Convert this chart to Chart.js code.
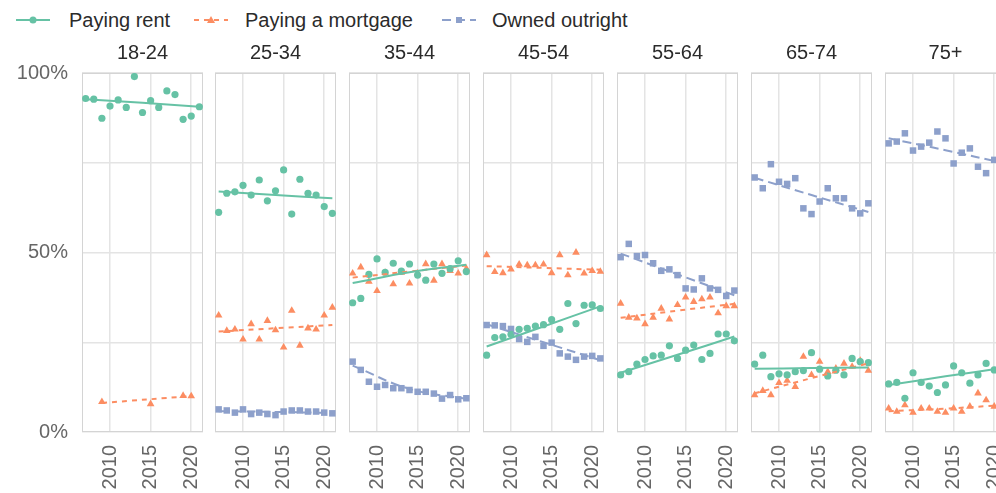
<!DOCTYPE html>
<html>
<head>
<meta charset="utf-8">
<script src="https://cdn.jsdelivr.net/npm/chart.js@4.4.1/dist/chart.umd.min.js"></script>
<style>
  body { margin: 0; background: #fff; }
  #wrap { position: relative; width: 996px; height: 493px; overflow: hidden; background: #fff; font-family: "Liberation Sans", Arial, sans-serif; }
  #wrap canvas { position: absolute; }
  .strip { position: absolute; top: 40px; width: 121px; text-align: center; font-size: 20px; line-height: 24px; color: #2b2b2b; }
  .leg { position: absolute; top: 8px; font-size: 20px; line-height: 24px; color: #2b2b2b; white-space: nowrap; }
  .legsym { position: absolute; top: 13px; }
</style>
</head>
<body>
<div id="wrap">
  <svg class="legsym" style="left:16px" width="34" height="14"><line x1="0" y1="7" x2="34" y2="7" stroke="#66c2a5" stroke-width="2"/><circle cx="17" cy="7" r="3.5" fill="#66c2a5"/></svg>
  <div class="leg" style="left:69px">Paying rent</div>
  <svg class="legsym" style="left:194px" width="34" height="14"><line x1="0" y1="7" x2="34" y2="7" stroke="#fc8d62" stroke-width="2" stroke-dasharray="5 5"/><polygon points="17,3 21,10 13,10" fill="#fc8d62"/></svg>
  <div class="leg" style="left:245px">Paying a mortgage</div>
  <svg class="legsym" style="left:442px" width="34" height="14"><line x1="0" y1="7" x2="34" y2="7" stroke="#8da0cb" stroke-width="2" stroke-dasharray="9 5"/><rect x="14" y="4" width="6" height="6" fill="#8da0cb"/></svg>
  <div class="leg" style="left:492px">Owned outright</div>
</div>
<script>
const ageGroups = ['18-24', '25-34', '35-44', '45-54', '55-64', '65-74', '75+'];
const years = [2007, 2008, 2009, 2010, 2011, 2012, 2013, 2014, 2015, 2016, 2017, 2018, 2019, 2020, 2021];
const tickYears = [2010, 2015, 2020];
const yTicks = [0, 0.25, 0.5, 0.75, 1];
const trendYears = [2007, 2014, 2021];
const youngMortgageTrendYears = [2009, 2020];

// share of households, one row per age group, 2007..2021
const rentValues = [
  [0.929, 0.927, 0.874, 0.908, 0.925, 0.904, 0.990, 0.890, 0.923, 0.904, 0.950, 0.940, 0.871, 0.880, 0.906],
  [0.612, 0.665, 0.669, 0.687, 0.660, 0.702, 0.644, 0.672, 0.730, 0.607, 0.704, 0.665, 0.660, 0.628, 0.609],
  [0.360, 0.372, 0.439, 0.482, 0.445, 0.470, 0.448, 0.468, 0.437, 0.423, 0.468, 0.442, 0.455, 0.477, 0.447],
  [0.214, 0.263, 0.265, 0.272, 0.286, 0.289, 0.295, 0.299, 0.313, 0.286, 0.358, 0.302, 0.353, 0.354, 0.344],
  [0.159, 0.168, 0.189, 0.202, 0.212, 0.214, 0.240, 0.205, 0.228, 0.242, 0.202, 0.219, 0.273, 0.273, 0.254],
  [0.189, 0.214, 0.154, 0.162, 0.159, 0.168, 0.171, 0.221, 0.175, 0.156, 0.172, 0.159, 0.205, 0.196, 0.193],
  [0.134, 0.138, 0.094, 0.165, 0.138, 0.128, 0.110, 0.131, 0.184, 0.165, 0.136, 0.159, 0.191, 0.173, 0.178]
];
const mortgageValues = [
  [null, null, 0.084, null, null, null, null, null, 0.078, null, null, null, 0.101, 0.100, null],
  [0.325, 0.282, 0.286, 0.258, 0.301, 0.258, 0.310, 0.284, 0.236, 0.338, 0.241, 0.289, 0.286, 0.325, 0.347],
  [0.442, 0.459, 0.419, 0.393, 0.444, 0.412, 0.444, 0.414, 0.442, 0.468, 0.422, 0.468, 0.449, 0.442, 0.455],
  [0.493, 0.446, 0.443, 0.453, 0.467, 0.465, 0.465, 0.467, 0.443, 0.493, 0.437, 0.500, 0.442, 0.449, 0.447],
  [0.358, 0.319, 0.317, 0.301, 0.319, 0.344, 0.314, 0.354, 0.375, 0.363, 0.370, 0.375, 0.331, 0.351, 0.351],
  [0.103, 0.115, 0.103, 0.137, 0.143, 0.126, 0.210, 0.159, 0.196, 0.168, 0.177, 0.191, 0.182, 0.199, 0.171],
  [0.066, 0.057, 0.075, 0.054, 0.066, 0.066, 0.057, 0.054, 0.066, 0.057, 0.071, 0.108, 0.089, 0.071, 0.068]
];
const ownedValues = [
  null,
  [0.063, 0.060, 0.054, 0.063, 0.050, 0.054, 0.050, 0.047, 0.057, 0.060, 0.060, 0.057, 0.057, 0.054, 0.052],
  [0.196, 0.173, 0.140, 0.126, 0.131, 0.122, 0.122, 0.117, 0.112, 0.112, 0.107, 0.093, 0.103, 0.091, 0.094],
  [0.298, 0.297, 0.295, 0.287, 0.259, 0.251, 0.265, 0.240, 0.249, 0.219, 0.210, 0.201, 0.210, 0.212, 0.205],
  [0.487, 0.524, 0.490, 0.493, 0.470, 0.449, 0.453, 0.437, 0.400, 0.397, 0.428, 0.400, 0.396, 0.379, 0.394],
  [0.709, 0.679, 0.746, 0.697, 0.691, 0.707, 0.623, 0.607, 0.642, 0.679, 0.651, 0.651, 0.623, 0.609, 0.637],
  [0.804, 0.809, 0.832, 0.784, 0.795, 0.806, 0.837, 0.818, 0.748, 0.778, 0.790, 0.739, 0.721, 0.758, 0.752]
];

// fitted trend, read at trendYears (18-24 mortgage only spans 2009-2020)
const rentTrend = [
  [0.927, 0.917, 0.906], [0.670, 0.660, 0.651], [0.415, 0.445, 0.466], [0.238, 0.294, 0.350],
  [0.165, 0.215, 0.266], [0.176, 0.178, 0.180], [0.131, 0.155, 0.178]
];
const mortgageTrend = [
  [0.081, 0.100], [0.280, 0.289, 0.298], [0.430, 0.447, 0.464], [0.462, 0.457, 0.452],
  [0.318, 0.338, 0.357], [0.108, 0.150, 0.191], [0.058, 0.065, 0.075]
];
const ownedTrend = [
  null, [0.058, 0.056, 0.053], [0.185, 0.120, 0.092], [0.300, 0.250, 0.200],
  [0.497, 0.439, 0.381], [0.708, 0.660, 0.613], [0.818, 0.785, 0.750]
];

const GREEN = '#66c2a5', ORANGE = '#fc8d62', PURPLE = '#8da0cb';
const FONT = '"Liberation Sans", Arial, sans-serif';
const TOP = 73, BOTTOM = 432, PANEL_W = 121, CANVAS_TOP = 60, PAD = 6;

const wrap = document.getElementById('wrap');

const panelBorder = {
  id: 'panelBorder',
  beforeDatasetsDraw(chart) {
    const { ctx, chartArea: a } = chart;
    ctx.save();
    ctx.strokeStyle = '#d4d4d4';
    ctx.lineWidth = 1;
    ctx.strokeRect(a.left + 0.5, a.top + 0.5, a.right - a.left - 1, a.bottom - a.top - 1);
    ctx.restore();
  }
};

function noOverflow(s) {
  s.paddingTop = 0; s.paddingBottom = 0; s.paddingLeft = 0; s.paddingRight = 0;
}

function pts(xs, vals) {
  return xs.map((x, j) => ({ x: x, y: vals[j] })).filter(p => p.y !== null);
}

function pointSet(vals, color, style, radius) {
  return { type: 'scatter', data: pts(years, vals), order: 2, pointStyle: style, pointRadius: radius,
    pointBackgroundColor: color, pointBorderWidth: 0, showLine: false };
}

function trendSet(xs, vals, color, dash) {
  return { type: 'line', data: pts(xs, vals), order: 1, borderColor: color, borderWidth: 2,
    borderDash: dash, pointRadius: 0, tension: 0.4, fill: false };
}

ageGroups.forEach((age, i) => {
  const left = Math.round(81.5 + i * 133.9);
  const first = i === 0;
  const cv = document.createElement('canvas');
  const cvLeft = first ? 0 : left - PAD;
  const cvW = first ? left + PANEL_W + PAD : PANEL_W + 2 * PAD;
  cv.width = cvW; cv.height = 493 - CANVAS_TOP;
  cv.style.left = cvLeft + 'px'; cv.style.top = CANVAS_TOP + 'px';
  wrap.appendChild(cv);

  const strip = document.createElement('div');
  strip.className = 'strip';
  strip.style.left = left + 'px';
  strip.textContent = age;
  wrap.appendChild(strip);

  const datasets = [
    pointSet(rentValues[i], GREEN, 'circle', 3.6),
    pointSet(mortgageValues[i], ORANGE, 'triangle', 4.4),
    trendSet(trendYears, rentTrend[i], GREEN, []),
    trendSet(first ? youngMortgageTrendYears : trendYears, mortgageTrend[i], ORANGE, [5, 5])
  ];
  if (ownedValues[i]) {
    datasets.push(pointSet(ownedValues[i], PURPLE, 'rect', 4.6));
    datasets.push(trendSet(trendYears, ownedTrend[i], PURPLE, [9, 5]));
  }

  new Chart(cv, {
    data: { datasets },
    options: {
      responsive: false,
      animation: false,
      events: [],
      layout: { padding: { left: first ? 0 : PAD, right: PAD, top: TOP - CANVAS_TOP, bottom: 0 } },
      plugins: { legend: { display: false }, tooltip: { enabled: false } },
      scales: {
        x: {
          type: 'linear', min: 2006.55, max: 2021.45,
          afterBuildTicks: s => { s.ticks = tickYears.map(v => ({ value: v })); },
          afterFit: s => { s.height = 493 - BOTTOM; noOverflow(s); },
          grid: { color: '#e4e4e4', lineWidth: 1.5, drawTicks: false },
          border: { display: false },
          ticks: { minRotation: 90, maxRotation: 90, padding: 13, color: '#666',
            font: { family: FONT, size: 20 }, callback: v => String(v) }
        },
        y: {
          type: 'linear', min: 0, max: 1,
          afterBuildTicks: s => { s.ticks = yTicks.map(v => ({ value: v })); },
          afterFit: s => { s.width = first ? left : 0; noOverflow(s); },
          grid: { color: '#e4e4e4', lineWidth: 1.5, drawTicks: false },
          border: { display: false },
          ticks: { display: first, padding: 14, color: '#666', font: { family: FONT, size: 20 },
            callback: v => (v * 2) % 1 === 0 ? Math.round(v * 100) + '%' : '' }
        }
      }
    },
    plugins: [panelBorder]
  });
});
</script>
</body>
</html>
